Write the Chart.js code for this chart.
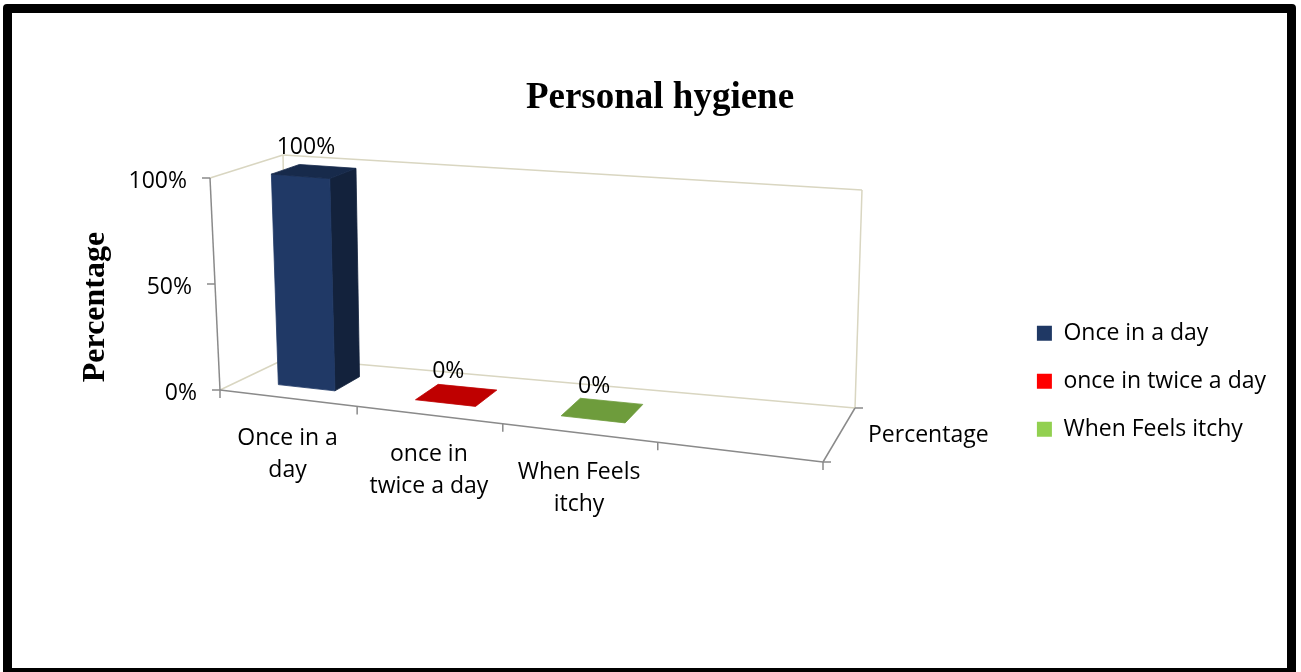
<!DOCTYPE html>
<html>
<head>
<meta charset="utf-8">
<title>Personal hygiene</title>
<script src="https://cdn.jsdelivr.net/npm/chart.js@4.4.1/dist/chart.umd.min.js"></script>
<style>
  html, body { margin: 0; padding: 0; background: #fff; overflow: hidden; }
  #wrap { position: relative; width: 1301px; height: 672px; }
  #frame {
    position: absolute; left: 3px; top: 4px; width: 1293px; height: 673px;
    box-sizing: border-box; border: 9px solid #000; border-radius: 4px;
    pointer-events: none;
  }
</style>
</head>
<body>
<div id="wrap">
  <canvas id="grafico-higiene" width="1301" height="672"></canvas>
  <div id="frame"></div>
</div>
<script>
// Personal hygiene - 3D column chart
const categories = ['Once in a day', 'once in twice a day', 'When Feels itchy', ''];
const categoryLines = [['Once in a', 'day'], ['once in', 'twice a day'], ['When Feels', 'itchy'], []];
const percentValues = [1, 0, 0, null];
const seriesName = 'Percentage';
const yTickValues = [0, 0.5, 1];
const barColors = ['#1F3864', '#FF0000', '#92D050', '#FFFFFF'];

// plot box corners on screen: floor and the 100% level
const floor = { fl: [220, 390], fr: [823, 462], bl: [287, 358], br: [855, 408] };
const roof = { fl: [210, 178], fr: [835, 230], bl: [283, 155], br: [862, 190] };
const persp = -0.1168;     // foreshortening along the category axis
const depth = [0.3, 0.7];  // bar depth inside the box

const lerp = (a, b, t) => [a[0] + (b[0] - a[0]) * t, a[1] + (b[1] - a[1]) * t];
const quad = (q, u, w) => lerp(lerp(q.fl, q.fr, u), lerp(q.bl, q.br, u), w);

function project(u, v, w) {
  const g = u * (1 + persp) / (1 + persp * u);
  return lerp(quad(floor, g, w), quad(roof, g, w), v);
}

function shade(hex, k) {
  const n = parseInt(hex.slice(1), 16);
  const c = [(n >> 16) & 255, (n >> 8) & 255, n & 255].map(x => Math.min(255, Math.round(x * k)));
  return `rgb(${c[0]},${c[1]},${c[2]})`;
}

function fillPoly(ctx, pts, color) {
  ctx.beginPath();
  pts.forEach((p, i) => i ? ctx.lineTo(p[0], p[1]) : ctx.moveTo(p[0], p[1]));
  ctx.closePath();
  ctx.fillStyle = color;
  ctx.strokeStyle = color;
  ctx.lineWidth = 0.8;
  ctx.fill();
  ctx.stroke();
}

function seg(ctx, a, b) {
  ctx.beginPath();
  ctx.moveTo(a[0], a[1]);
  ctx.lineTo(b[0], b[1]);
  ctx.stroke();
}

const pct = v => Math.round(v * 100) + '%';

const box3d = {
  id: 'box3d',
  beforeDatasetDraw() { return false; },
  afterDatasetsDraw(chart) {
    const { ctx, chartArea: ca } = chart;
    const yScale = chart.scales.y;
    const xScale = chart.scales.x;
    const toU = px => (px - ca.left) / ca.width;
    const toV = py => (ca.bottom - py) / ca.height;
    const n = categories.length;

    ctx.save();

    // side and back walls
    ctx.lineWidth = 1.5;
    ctx.strokeStyle = '#D9D6C1';
    seg(ctx, floor.fl, floor.bl);
    seg(ctx, roof.fl, roof.bl);
    seg(ctx, floor.bl, floor.br);
    seg(ctx, floor.br, roof.br);
    seg(ctx, roof.br, roof.bl);
    seg(ctx, roof.bl, floor.bl);

    // axis lines
    ctx.strokeStyle = '#8A8A8A';
    seg(ctx, floor.fl, roof.fl);
    seg(ctx, floor.fl, floor.fr);
    seg(ctx, floor.fr, floor.br);

    ctx.fillStyle = '#000';
    ctx.font = '23px "Open Sans"';
    ctx.textBaseline = 'middle';

    // value axis ticks
    ctx.textAlign = 'right';
    yScale.ticks.forEach(t => {
      const p = project(0, toV(yScale.getPixelForValue(t.value)), 0);
      seg(ctx, p, [p[0] - 8, p[1]]);
      ctx.fillText(pct(t.value), p[0] - 23, p[1] + 3);
    });

    // category ticks and labels
    for (let i = 0; i <= n; i++) {
      const p = project(i / n, 0, 0);
      seg(ctx, p, [p[0], p[1] + 8]);
    }
    ctx.textAlign = 'center';
    categoryLines.forEach((lines, i) => {
      const p = project(toU(xScale.getPixelForValue(i)), 0, 0);
      lines.forEach((s, j) => ctx.fillText(s, p[0], p[1] + 40 + j * 32));
    });

    // depth (series) axis
    [0, 1].forEach(w => {
      const p = project(1, 0, w);
      seg(ctx, p, [p[0] + 8, p[1]]);
    });
    const sp = project(1, 0, 0.5);
    ctx.textAlign = 'left';
    ctx.fillText(seriesName, sp[0] + 29, sp[1]);

    // bars
    const meta = chart.getDatasetMeta(0);
    meta.data.forEach((el, i) => {
      const val = percentValues[i];
      if (val === null) return;
      const { x, y, base, width } = el.getProps(['x', 'y', 'base', 'width'], true);
      const u0 = toU(x - width / 2), u1 = toU(x + width / 2);
      const v0 = toV(base), v1 = toV(y);
      const [w0, w1] = depth;
      const c = barColors[i];
      if (v1 - v0 > 0.002) {
        fillPoly(ctx, [project(u1, v0, w0), project(u1, v0, w1), project(u1, v1, w1), project(u1, v1, w0)], shade(c, 0.6));
        fillPoly(ctx, [project(u0, v0, w0), project(u1, v0, w0), project(u1, v1, w0), project(u0, v1, w0)], shade(c, 1.02));
      }
      fillPoly(ctx, [project(u0, v1, w0), project(u1, v1, w0), project(u1, v1, w1), project(u0, v1, w1)], shade(c, 0.75));

      const lp = project((u0 + u1) / 2, v1, 0.5);
      ctx.fillStyle = '#000';
      ctx.textAlign = 'center';
      ctx.fillText(pct(val), lp[0] - 8, lp[1] - 24);
    });

    // value axis title
    ctx.translate(96, 307);
    ctx.rotate(-Math.PI / 2);
    ctx.font = 'bold 32px "Liberation Serif"';
    ctx.textAlign = 'center';
    ctx.fillText('Percentage', 0, 0);

    ctx.restore();
  }
};

document.addEventListener('DOMContentLoaded', () => {
  const ctx = document.getElementById('grafico-higiene').getContext('2d');
  Chart.defaults.font.family = '"Open Sans"';
  Chart.defaults.color = '#000';

  new Chart(ctx, {
    type: 'bar',
    data: {
      labels: categories,
      datasets: [{
        label: seriesName,
        data: percentValues,
        backgroundColor: barColors,
        categoryPercentage: 1,
        barPercentage: 0.42
      }]
    },
    options: {
      responsive: false,
      animation: false,
      devicePixelRatio: 1,
      layout: { padding: { top: 20, left: 44, right: 25, bottom: 37 } },
      plugins: {
        title: {
          display: true,
          text: 'Personal hygiene',
          color: '#000',
          font: { family: '"Liberation Serif"', size: 37, weight: 'bold' },
          padding: { top: 56, bottom: 7 }
        },
        legend: {
          position: 'right',
          fullSize: false,
          labels: {
            color: '#000',
            font: { size: 23 },
            boxWidth: 15,
            boxHeight: 15,
            padding: 25,
            generateLabels: () => categories
              .map((c, i) => ({ text: c, fillStyle: barColors[i], strokeStyle: barColors[i], lineWidth: 0, hidden: false, index: i }))
              .filter(item => item.text)
          }
        },
        tooltip: { enabled: false }
      },
      scales: {
        x: { display: false },
        y: {
          display: false,
          min: 0,
          max: 1,
          afterBuildTicks: scale => { scale.ticks = yTickValues.map(v => ({ value: v })); }
        }
      }
    },
    plugins: [box3d]
  });
});
</script>
</body>
</html>
